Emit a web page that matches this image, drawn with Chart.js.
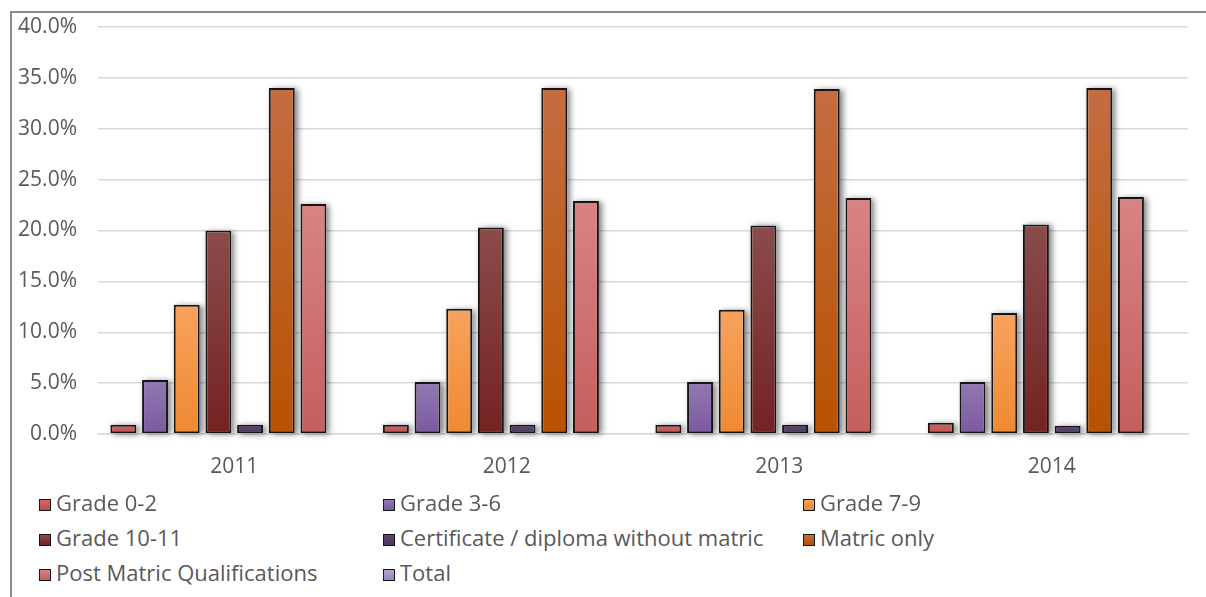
<!DOCTYPE html>
<html>
<head>
<meta charset="utf-8">
<title>Highest education level, 2011-2014</title>
<script src="https://cdn.jsdelivr.net/npm/chart.js@4.4.0/dist/chart.umd.min.js"></script>
<style>
    html, body { margin: 0; padding: 0; background: #fff; }
    #wrap { position: relative; width: 1206px; height: 597px; overflow: hidden; font-family: "Open Sans", sans-serif; }
    #frame { position: absolute; left: 10px; top: 11px; width: 1220px; height: 620px; border-left: 2px solid #8c8c8c; border-top: 2px solid #8c8c8c; }
    #plot { position: absolute; left: 0; top: 0; width: 1206px; height: 490px; }
    #legend .item { position: absolute; height: 28px; line-height: 28px; font-size: 22px; color: #595959; white-space: nowrap; }
    #legend .box { display: inline-block; width: 10px; height: 10px; border: 1.5px solid #151515; vertical-align: 0px; margin-right: 5px; }
</style>
</head>
<body>
<div id="wrap">
    <div id="frame"></div>
    <div id="plot"><canvas id="chart"></canvas></div>
    <div id="legend"></div>
</div>
<script>
"use strict";

/**----------------------------------------------------------------------
 * [Chart data: share of people per education level, by year (%)]
 *--------------------------------------------------------------*/
const years = ['2011', '2012', '2013', '2014'];

const grade0to2 = [0.9, 0.9, 0.9, 1.1];
const grade3to6 = [5.3, 5.1, 5.1, 5.1];
const grade7to9 = [12.7, 12.3, 12.2, 11.9];
const grade10to11 = [20.0, 20.3, 20.5, 20.6];
const certificate = [0.9, 0.9, 0.9, 0.8];
const matricOnly = [34.0, 34.0, 33.9, 34.0];
const postMatric = [22.6, 22.9, 23.2, 23.3];
const total = [null, null, null, null];

const yTicks = [0, 5, 10, 15, 20, 25, 30, 35, 40];

/**----------------------------------------------------------------------
 * [Series styling: label, gradient top colour, gradient bottom colour]
 *--------------------------------------------------------------*/
const series = [
    { label: 'Grade 0-2', data: grade0to2, top: '#cf6562', bottom: '#c0504d' },
    { label: 'Grade 3-6', data: grade3to6, top: '#9279b2', bottom: '#7a5a9e' },
    { label: 'Grade 7-9', data: grade7to9, top: '#f9a25d', bottom: '#ee8a32' },
    { label: 'Grade 10-11', data: grade10to11, top: '#8b4c4c', bottom: '#742222' },
    { label: 'Certificate / diploma without matric', data: certificate, top: '#5c4875', bottom: '#4a3760' },
    { label: 'Matric only', data: matricOnly, top: '#c36d42', bottom: '#b85200' },
    { label: 'Post Matric Qualifications', data: postMatric, top: '#d88484', bottom: '#c55e5e' },
    { label: 'Total', data: total, top: '#b3a2cc', bottom: '#9a86bb' }
];

/**----------------------------------------------------------------------
 * [Legend grid: column x and row centre y, filled row by row]
 *--------------------------------------------------------------*/
const legendCols = [39, 383, 803];
const legendRows = [502, 537, 572];

/**----------------------------------------------------------------------
 * [Vertical gradient for each bar, lighter at its top]
 *--------------------------------------------------------------*/
function barFill(top, bottom) {
    return function(context) {
        const chart = context.chart;
        if (!chart.chartArea || context.raw == null) {
            return bottom;
        }
        const y = chart.scales.y;
        const g = chart.ctx.createLinearGradient(0, y.getPixelForValue(context.raw), 0, y.getPixelForValue(0));
        g.addColorStop(0, top);
        g.addColorStop(1, bottom);
        return g;
    };
}

/**----------------------------------------------------------------------
 * [Soft drop shadow behind the bars: the bar element clips its own
 *  drawing, so the shadow is cast from a rect painted underneath]
 *--------------------------------------------------------------*/
const barShadow = {
    id: 'barShadow',
    beforeDatasetsDraw(chart) {
        const c = chart.ctx;
        c.save();
        c.shadowColor = 'rgba(0, 0, 0, 0.5)';
        c.shadowBlur = 6;
        c.shadowOffsetX = 3;
        c.shadowOffsetY = 1;
        c.fillStyle = '#fff';
        chart.data.datasets.forEach((ds, i) => {
            chart.getDatasetMeta(i).data.forEach(bar => {
                const p = bar.getProps(['x', 'y', 'base', 'width'], true);
                if (isNaN(p.y) || isNaN(p.x)) {
                    return;
                }
                c.fillRect(p.x - p.width / 2, Math.min(p.y, p.base), p.width, Math.abs(p.base - p.y));
            });
        });
        c.restore();
    }
};

const font = { family: '"Open Sans", sans-serif', size: 21 };

const chart = new Chart(document.getElementById('chart').getContext('2d'), {
    type: 'bar',
    data: {
        labels: years,
        datasets: series.map(s => ({
            label: s.label,
            data: s.data,
            backgroundColor: barFill(s.top, s.bottom),
            borderColor: '#151515',
            borderWidth: 2,
            borderSkipped: false,
            categoryPercentage: 0.93,
            barPercentage: 0.82
        }))
    },
    options: {
        responsive: true,
        maintainAspectRatio: false,
        animation: false,
        layout: {
            padding: { left: 0, top: 27, right: 18, bottom: 0 }
        },
        plugins: {
            legend: { display: false },
            tooltip: { enabled: false }
        },
        scales: {
            y: {
                min: 0,
                max: 40,
                afterBuildTicks: scale => { scale.ticks = yTicks.map(v => ({ value: v })); },
                afterFit: scale => { scale.width = 98; },
                ticks: {
                    font: font,
                    color: '#595959',
                    padding: 3,
                    callback: v => v.toFixed(1) + '%'
                },
                grid: {
                    color: '#d9d9d9',
                    lineWidth: 1.5,
                    drawTicks: true,
                    tickLength: 18,
                    tickColor: 'rgba(0, 0, 0, 0)'
                },
                border: { display: false }
            },
            x: {
                afterFit: scale => { scale.height = 56; },
                ticks: {
                    font: font,
                    color: '#595959',
                    padding: 20
                },
                grid: {
                    display: false,
                    drawTicks: false
                },
                border: { color: '#d9d9d9', width: 1.5 }
            }
        }
    },
    plugins: [barShadow]
});

/**----------------------------------------------------------------------
 * [HTML legend laid out as a three column grid]
 *--------------------------------------------------------------*/
const legend = document.getElementById('legend');
chart.data.datasets.forEach((ds, i) => {
    const s = series[i];
    const item = document.createElement('div');
    item.className = 'item';
    item.style.left = legendCols[i % 3] + 'px';
    item.style.top = (legendRows[Math.floor(i / 3)] - 14) + 'px';

    const box = document.createElement('span');
    box.className = 'box';
    box.style.background = 'linear-gradient(' + s.top + ', ' + s.bottom + ')';

    item.appendChild(box);
    item.appendChild(document.createTextNode(ds.label));
    legend.appendChild(item);
});
</script>
</body>
</html>
